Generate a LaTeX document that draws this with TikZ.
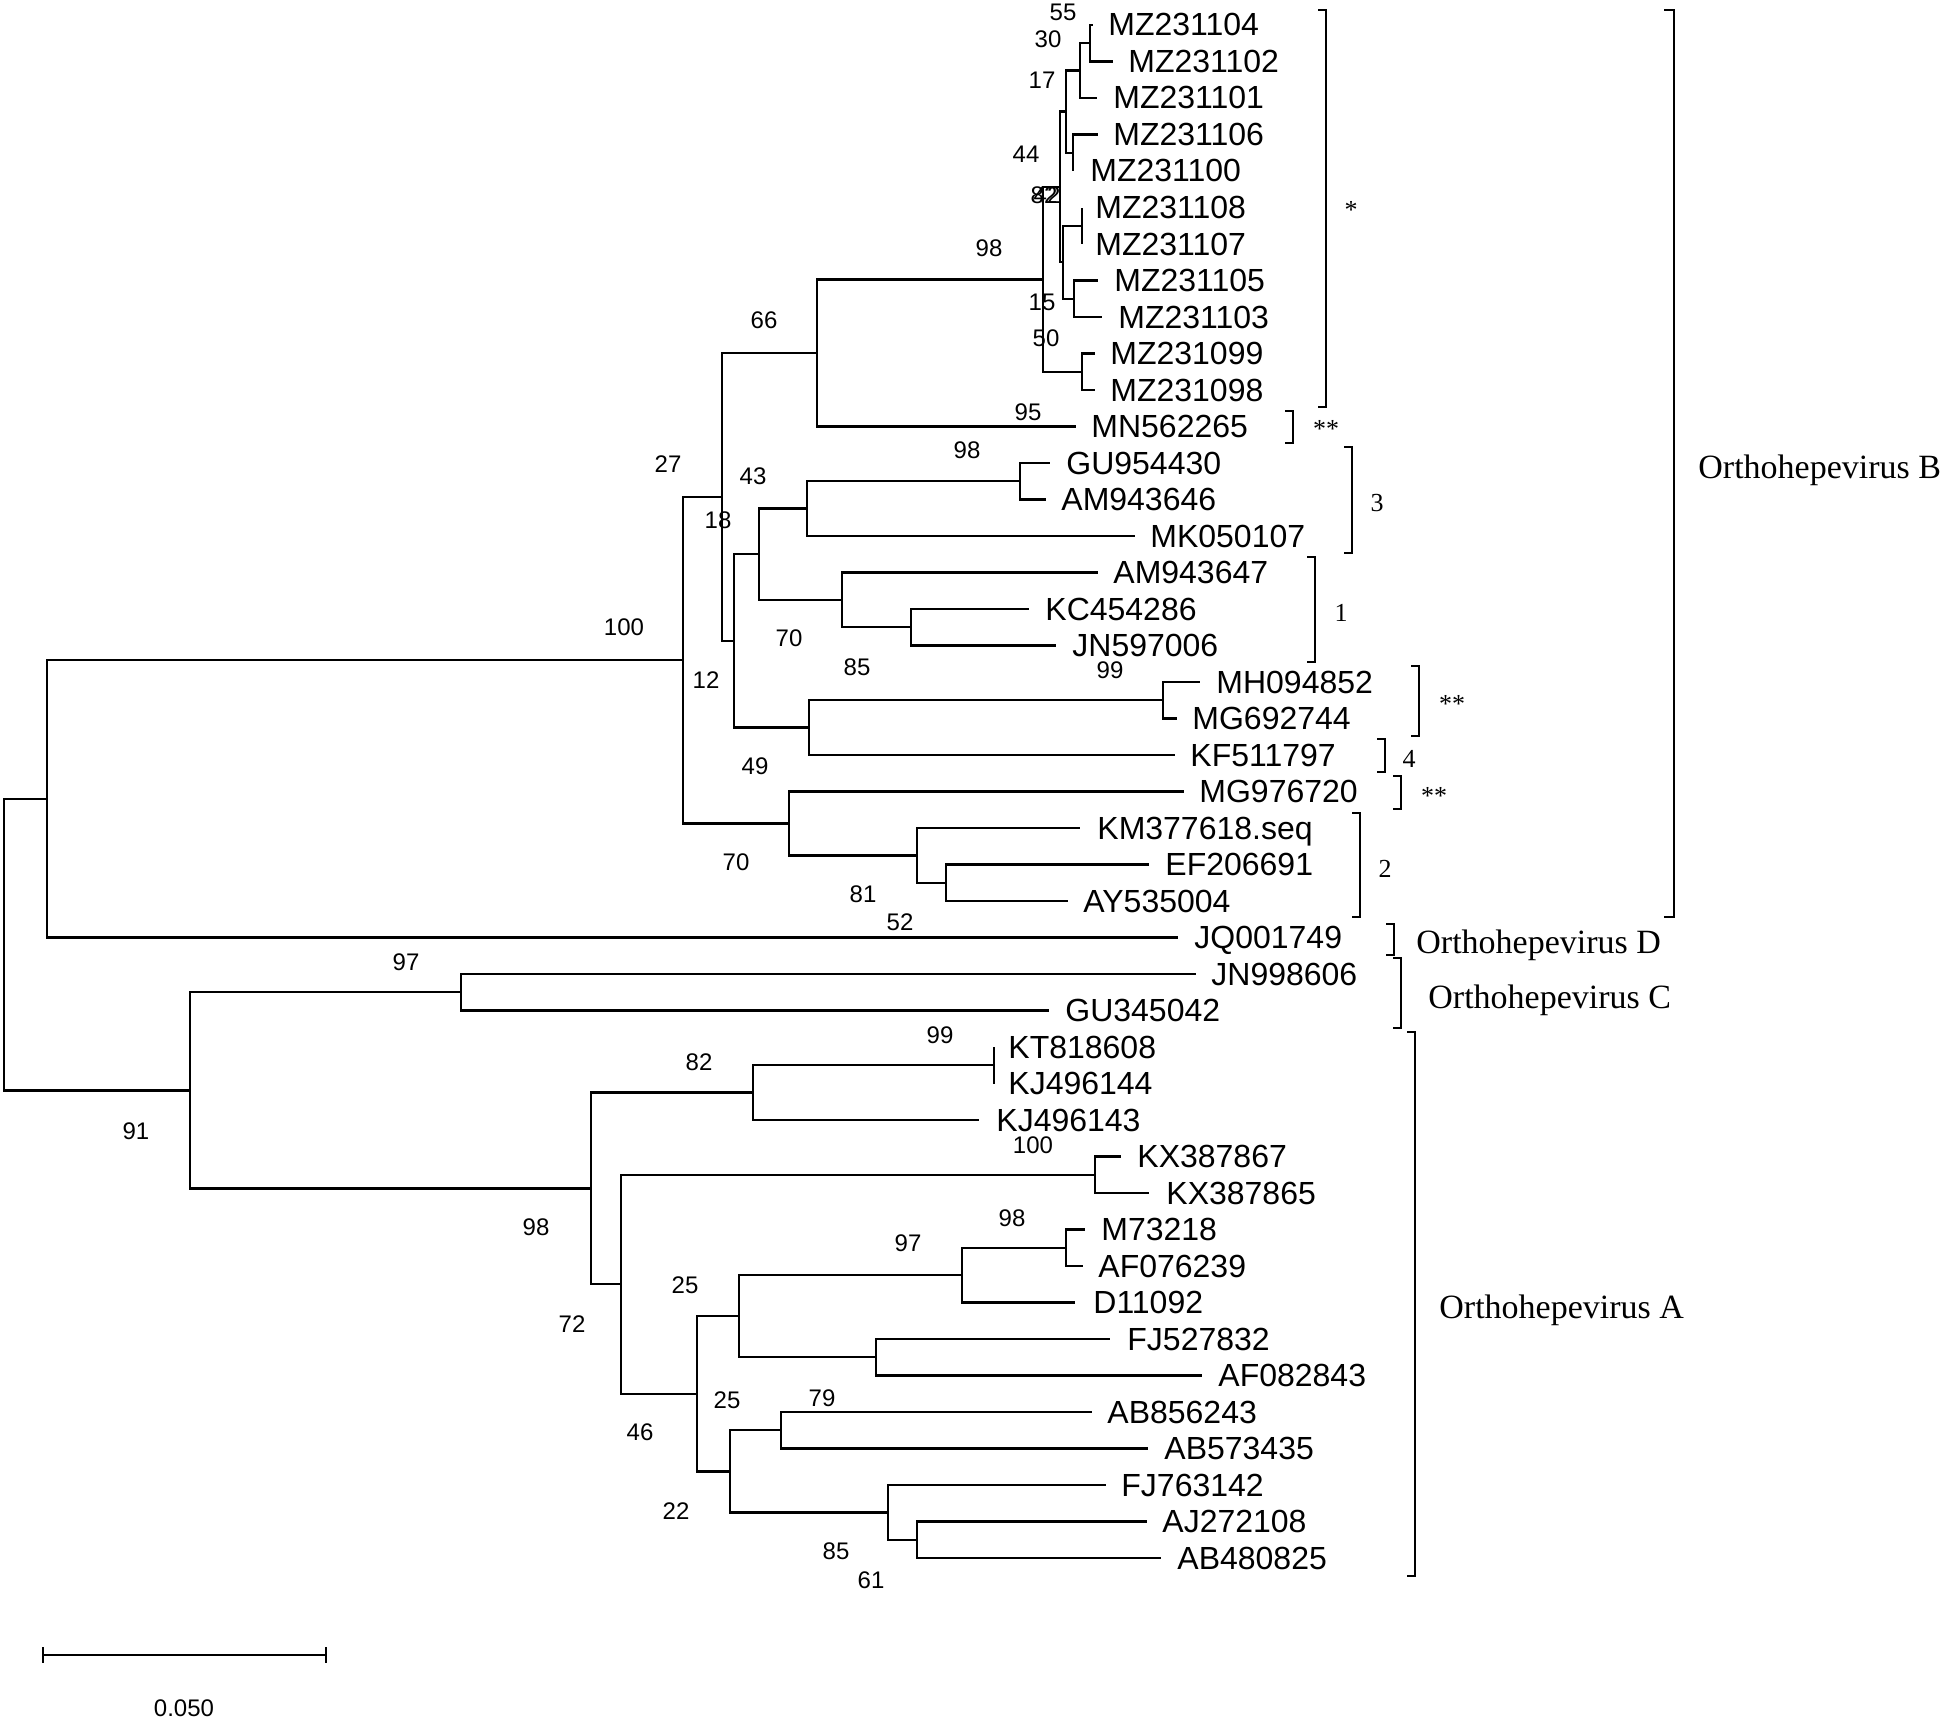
\documentclass[tikz,border=0pt]{standalone}
\usepackage{fontspec}
\setmainfont{Liberation Sans}
\newfontfamily\serifface{Liberation Serif}
\newcommand\tleaf[5]{%
  \coordinate (#1) at (#2,{25+36.5*#3});
  \node[leaflab] (#1L) at (#4,{36+36.5*#3}) {#5};}
\newcommand\bootlab[3]{\node[boot] at (#1,#2) {#3};}
\newcommand\brkt[4]{\draw[brk] ({#1-#4},#2) -- (#1,#2) -- (#1,#3) -- ({#1-#4},#3);}
\begin{document}
\begin{tikzpicture}[x=0.5pt,y=-0.5pt,
  branch/.style={line width=1.2pt, line join=miter},
  brk/.style={line width=1.1pt},
  leaflab/.style={anchor=base west, inner sep=0pt, font=\fontsize{16pt}{19pt}\selectfont},
  boot/.style={anchor=center, inner sep=0pt, font=\fontsize{12pt}{14pt}\selectfont},
  grp/.style={anchor=base west, inner sep=0pt, font=\serifface\fontsize{17pt}{20pt}\selectfont},
  brklab/.style={anchor=center, inner sep=0pt, font=\serifface\fontsize{13pt}{15pt}\selectfont},
  astlab/.style={anchor=base, inner sep=0pt, font=\serifface\fontsize{13pt}{15pt}\selectfont}]
\useasboundingbox (0,0) rectangle (1944,1723);

% ---------- leaves ----------
\tleaf{L0}{1093}{0}{1108}{MZ231104}
\tleaf{L1}{1113}{1}{1128}{MZ231102}
\tleaf{L2}{1097}{2}{1113}{MZ231101}
\tleaf{L3}{1098}{3}{1113}{MZ231106}
\tleaf{L4}{1073}{4}{1090}{MZ231100}
\tleaf{L5}{1082}{5}{1095}{MZ231108}
\tleaf{L6}{1082}{6}{1095}{MZ231107}
\tleaf{L7}{1098}{7}{1114}{MZ231105}
\tleaf{L8}{1102}{8}{1118}{MZ231103}
\tleaf{L9}{1095}{9}{1110}{MZ231099}
\tleaf{L10}{1095}{10}{1110}{MZ231098}
\tleaf{L11}{1076}{11}{1091}{MN562265}
\tleaf{L12}{1050}{12}{1066}{GU954430}
\tleaf{L13}{1046}{13}{1061}{AM943646}
\tleaf{L14}{1135}{14}{1150}{MK050107}
\tleaf{L15}{1098}{15}{1113}{AM943647}
\tleaf{L16}{1029}{16}{1045}{KC454286}
\tleaf{L17}{1056}{17}{1072}{JN597006}
\tleaf{L18}{1200}{18}{1216}{MH094852}
\tleaf{L19}{1177}{19}{1192}{MG692744}
\tleaf{L20}{1175}{20}{1190}{KF511797}
\tleaf{L21}{1184}{21}{1199}{MG976720}
\tleaf{L22}{1080}{22}{1097}{KM377618.seq}
\tleaf{L23}{1149}{23}{1165}{EF206691}
\tleaf{L24}{1068}{24}{1083}{AY535004}
\tleaf{L25}{1178}{25}{1194}{JQ001749}
\tleaf{L26}{1196}{26}{1211}{JN998606}
\tleaf{L27}{1049}{27}{1065}{GU345042}
\tleaf{L28}{994}{28}{1008}{KT818608}
\tleaf{L29}{994}{29}{1008}{KJ496144}
\tleaf{L30}{979}{30}{996}{KJ496143}
\tleaf{L31}{1121}{31}{1137}{KX387867}
\tleaf{L32}{1149}{32}{1166}{KX387865}
\tleaf{L33}{1085}{33}{1101}{M73218}
\tleaf{L34}{1083}{34}{1098}{AF076239}
\tleaf{L35}{1075}{35}{1093}{D11092}
\tleaf{L36}{1110}{36}{1127}{FJ527832}
\tleaf{L37}{1202}{37}{1218}{AF082843}
\tleaf{L38}{1092}{38}{1107}{AB856243}
\tleaf{L39}{1148}{39}{1164}{AB573435}
\tleaf{L40}{1106}{40}{1121}{FJ763142}
\tleaf{L41}{1147}{41}{1162}{AJ272108}
\tleaf{L42}{1161}{42}{1177}{AB480825}

% ---------- internal nodes ----------
\coordinate (n55) at (1090,43.25);
\coordinate (n30) at (1080,70.6);
\coordinate (n1006) at (1073,152.75);
\coordinate (n17) at (1066,111.7);
\coordinate (n0807) at (1082,225.75);
\coordinate (n0503) at (1074,298.75);
\coordinate (nX) at (1063,262.25);
\coordinate (n44) at (1060,187);
\coordinate (n0998) at (1082,371.75);
\coordinate (nMZ) at (1043,279.4);
\coordinate (n66) at (817,352.9);
\coordinate (nGA) at (1020,481.25);
\coordinate (n43) at (807,508.6);
\coordinate (nKJ) at (911,627.25);
\coordinate (nAK) at (842,599.9);
\coordinate (n18) at (759,554.2);
\coordinate (nMH) at (1163,700.25);
\coordinate (n49) at (809,727.6);
\coordinate (n12) at (734,640.9);
\coordinate (n27) at (722,497);
\coordinate (nEA) at (946,882.75);
\coordinate (n81) at (917,855.4);
\coordinate (n70) at (789,823.4);
\coordinate (nB) at (683,660.2);
\coordinate (nBD) at (47,798.9);
\coordinate (nC) at (461,992.25);
\coordinate (nKT) at (994,1065.25);
\coordinate (n82) at (753,1092.6);
\coordinate (nKX) at (1095,1174.75);
\coordinate (nM7) at (1066,1247.75);
\coordinate (n97) at (962,1275.1);
\coordinate (nFJ) at (876,1357.25);
\coordinate (n25a) at (739,1316.2);
\coordinate (nAB) at (781,1430.25);
\coordinate (nAJ) at (917,1539.75);
\coordinate (nF7) at (888,1512.4);
\coordinate (n22) at (730,1471.3);
\coordinate (n25b) at (697,1393.75);
\coordinate (n621) at (621,1284.25);
\coordinate (nA) at (591,1188.4);
\coordinate (nAC) at (190,1090.3);
\coordinate (root) at (4,944.6);

% ---------- branches ----------
\begin{scope}[branch]
\draw (n55) |- (L0); \draw (n55) |- (L1);
\draw (n30) |- (n55); \draw (n30) |- (L2);
\draw (n1006) |- (L3); \draw (n1006) |- (L4);
\draw (n17) |- (n30); \draw (n17) |- (n1006);
\draw (n0807) |- (L5); \draw (n0807) |- (L6);
\draw (n0503) |- (L7); \draw (n0503) |- (L8);
\draw (nX) |- (n0807); \draw (nX) |- (n0503);
\draw (n44) |- (n17); \draw (n44) |- (nX);
\draw (n0998) |- (L9); \draw (n0998) |- (L10);
\draw (nMZ) |- (n44); \draw (nMZ) |- (n0998);
\draw (n66) |- (nMZ); \draw (n66) |- (L11);
\draw (nGA) |- (L12); \draw (nGA) |- (L13);
\draw (n43) |- (nGA); \draw (n43) |- (L14);
\draw (nKJ) |- (L16); \draw (nKJ) |- (L17);
\draw (nAK) |- (L15); \draw (nAK) |- (nKJ);
\draw (n18) |- (n43); \draw (n18) |- (nAK);
\draw (nMH) |- (L18); \draw (nMH) |- (L19);
\draw (n49) |- (nMH); \draw (n49) |- (L20);
\draw (n12) |- (n18); \draw (n12) |- (n49);
\draw (n27) |- (n66); \draw (n27) |- (n12);
\draw (nEA) |- (L23); \draw (nEA) |- (L24);
\draw (n81) |- (L22); \draw (n81) |- (nEA);
\draw (n70) |- (L21); \draw (n70) |- (n81);
\draw (nB) |- (n27); \draw (nB) |- (n70);
\draw (nBD) |- (nB); \draw (nBD) |- (L25);
\draw (nC) |- (L26); \draw (nC) |- (L27);
\draw (nKT) |- (L28); \draw (nKT) |- (L29);
\draw (n82) |- (nKT); \draw (n82) |- (L30);
\draw (nKX) |- (L31); \draw (nKX) |- (L32);
\draw (nM7) |- (L33); \draw (nM7) |- (L34);
\draw (n97) |- (nM7); \draw (n97) |- (L35);
\draw (nFJ) |- (L36); \draw (nFJ) |- (L37);
\draw (n25a) |- (n97); \draw (n25a) |- (nFJ);
\draw (nAB) |- (L38); \draw (nAB) |- (L39);
\draw (nAJ) |- (L41); \draw (nAJ) |- (L42);
\draw (nF7) |- (L40); \draw (nF7) |- (nAJ);
\draw (n22) |- (nAB); \draw (n22) |- (nF7);
\draw (n25b) |- (n25a); \draw (n25b) |- (n22);
\draw (n621) |- (nKX); \draw (n621) |- (n25b);
\draw (nA) |- (n82); \draw (nA) |- (n621);
\draw (nAC) |- (nC); \draw (nAC) |- (nA);
\draw (root) |- (nBD); \draw (root) |- (nAC);
\end{scope}

% ---------- bootstrap values ----------
\bootlab{1063}{12}{55}
\bootlab{1048}{39}{30}
\bootlab{1042}{80}{17}
\bootlab{1026}{154}{44}
\bootlab{1044}{195}{82}
\bootlab{1047}{195}{42}
\bootlab{989}{248}{98}
\bootlab{1042}{302}{15}
\bootlab{1046}{338}{50}
\bootlab{764}{320}{66}
\bootlab{1028}{412}{95}
\bootlab{967}{450}{98}
\bootlab{668}{464}{27}
\bootlab{753}{476}{43}
\bootlab{718}{520}{18}
\bootlab{624}{627}{100}
\bootlab{789}{638}{70}
\bootlab{857}{667}{85}
\bootlab{1110}{670}{99}
\bootlab{706}{680}{12}
\bootlab{755}{766}{49}
\bootlab{736}{862}{70}
\bootlab{863}{894}{81}
\bootlab{900}{922}{52}
\bootlab{406}{962}{97}
\bootlab{940}{1035}{99}
\bootlab{699}{1062}{82}
\bootlab{136}{1131}{91}
\bootlab{1033}{1145}{100}
\bootlab{1012}{1218}{98}
\bootlab{536}{1227}{98}
\bootlab{908}{1243}{97}
\bootlab{685}{1285}{25}
\bootlab{572}{1324}{72}
\bootlab{727}{1400}{25}
\bootlab{822}{1398}{79}
\bootlab{640}{1432}{46}
\bootlab{676}{1511}{22}
\bootlab{836}{1551}{85}
\bootlab{871}{1580}{61}

% ---------- brackets ----------
\brkt{1326}{10}{407}{8}
\node[astlab] (s1) at (1351,218) {*};
\brkt{1293}{411}{443}{8}
\node[astlab] (s2) at (1326,437) {**};
\brkt{1352}{447}{553}{8}
\node[brklab] (g3) at (1377,503) {3};
\brkt{1315}{557}{662}{8}
\node[brklab] (g1) at (1341,613) {1};
\brkt{1419}{666}{736}{8}
\node[astlab] (s3) at (1452,712) {**};
\brkt{1385}{739}{772}{8}
\node[brklab] (g4) at (1409,759) {4};
\brkt{1401}{776}{809}{8}
\node[astlab] (s4) at (1434,804) {**};
\brkt{1360}{813}{917}{8}
\node[brklab] (g2) at (1385,869) {2};

\brkt{1674}{10}{917}{10}
\node[grp] (oB) at (1698,478) {Orthohepevirus B};
\brkt{1394}{924}{955}{8}
\node[grp] (oD) at (1416,953) {Orthohepevirus D};
\brkt{1401}{958}{1028}{8}
\node[grp] (oC) at (1428,1008) {Orthohepevirus C};
\brkt{1415}{1032}{1576}{8}
\node[grp] (oA) at (1439,1318) {Orthohepevirus A};

% ---------- scale bar ----------
\coordinate (sb1) at (43,1655);
\coordinate (sb2) at (326,1655);
\draw[branch] (sb1) -- (sb2);
\draw[branch] ([yshift=4pt]sb1) -- ([yshift=-4pt]sb1);
\draw[branch] ([yshift=4pt]sb2) -- ([yshift=-4pt]sb2);
\node[boot] (sbl) at (184,1708) {0.050};
\end{tikzpicture}
\end{document}
